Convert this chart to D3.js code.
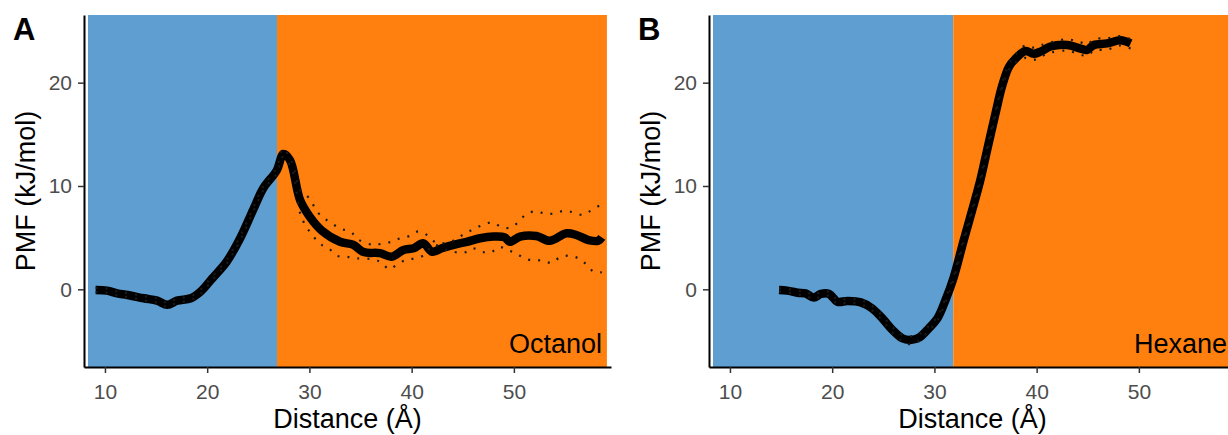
<!DOCTYPE html>
<html>
<head>
<meta charset="utf-8">
<script src="https://cdn.jsdelivr.net/npm/d3@7"></script>
<style>
  body { margin: 0; background: #fff; }
  text { font-family: "Liberation Sans", Arial, sans-serif; }
</style>
</head>
<body>
<svg width="1228" height="435"></svg>
<script>
// ---- data ----
const xTicks = [10, 20, 30, 40, 50];
const yTicks = [0, 10, 20];
const panelLabels = ['A', 'B'];
const solvents = ['Octanol', 'Hexane'];
const waterStart = [8.34, 8.34];      // blue region start (Å)
const interfacePos = [26.83, 31.84];  // blue / orange boundary (Å)
const solventEnd = [59.1, 59.1];      // orange region end (Å)

// panel A: octanol
const distA = [9.09, 10.2, 11.2, 12.2, 13.8, 15.1, 16.1, 17.05, 18.4, 19.35, 20.5, 21.9, 23.2, 24.5, 25.5, 26.8, 27.45, 28.1, 29.1, 30.05, 31.2, 33.0, 34.3, 35.3, 36.9, 38.05, 39.2, 40.2, 41.15, 41.97, 42.95, 44.1, 45.4, 46.7, 48.0, 49.1, 49.6, 50.6, 52.2, 53.5, 55.15, 56.1, 57.3, 58.25, 58.6];
const pmfA  = [-0.07, -0.13, -0.4, -0.55, -0.87, -1.1, -1.5, -1.1, -0.87, -0.23, 1.06, 2.67, 4.9, 7.7, 9.8, 11.5, 13.1, 12.5, 8.6, 7.0, 5.7, 4.6, 4.3, 3.6, 3.5, 3.15, 3.8, 3.97, 4.45, 3.64, 3.97, 4.3, 4.6, 4.94, 5.1, 5.03, 4.6, 5.1, 5.16, 4.7, 5.42, 5.26, 4.77, 4.7, 5.03];
const upDistA = [9.09, 10.2, 11.2, 12.2, 13.8, 15.1, 16.1, 17.05, 18.4, 19.35, 20.5, 21.9, 23.2, 24.5, 25.5, 26.8, 27.4, 28.3, 29.1, 29.9, 30.9, 31.7, 33.0, 34.1, 34.8, 36.3, 37.2, 38.05, 38.9, 39.8, 40.65, 41.5, 42.45, 43.8, 44.6, 45.4, 46.25, 47.2, 48.0, 48.8, 49.8, 50.6, 51.25, 52.2, 53.05, 54.0, 54.9, 55.8, 56.7, 57.5, 58.35];
const upPmfA  = [0.13, 0.07, -0.2, -0.35, -0.67, -0.9, -1.3, -0.9, -0.67, -0.03, 1.26, 2.87, 5.1, 7.9, 10.0, 11.8, 13.6, 12.3, 9.6, 8.9, 7.35, 6.7, 5.9, 5.5, 4.8, 4.3, 4.45, 4.6, 4.94, 5.16, 5.6, 5.26, 4.5, 4.6, 5.03, 5.5, 5.9, 6.35, 6.45, 6.0, 6.0, 6.7, 7.3, 7.55, 7.3, 7.35, 7.6, 7.45, 7.2, 7.6, 8.1];
const loDistA = [9.09, 10.2, 11.2, 12.2, 13.8, 15.1, 16.1, 17.05, 18.4, 19.35, 20.5, 21.9, 23.2, 24.5, 25.5, 26.8, 27.4, 28.3, 29.0, 29.3, 29.8, 30.4, 31.05, 31.95, 32.7, 33.65, 34.6, 36.25, 37.05, 37.8, 38.5, 39.4, 40.3, 41.2, 42.1, 43.4, 45.1, 46.0, 46.85, 47.7, 48.6, 49.35, 50.2, 51.0, 51.9, 52.8, 53.7, 54.5, 55.4, 56.3, 57.05, 57.8, 58.6];
const loPmfA  = [-0.27, -0.33, -0.6, -0.75, -1.07, -1.3, -1.7, -1.3, -1.07, -0.43, 0.86, 2.47, 4.7, 7.5, 9.6, 11.2, 12.8, 11.6, 7.7, 6.8, 5.9, 5.1, 4.4, 3.9, 3.25, 3.15, 3.0, 2.9, 2.58, 1.94, 2.35, 2.84, 3.0, 3.3, 4.3, 3.8, 3.55, 3.97, 3.64, 3.55, 4.1, 3.8, 3.5, 3.0, 2.8, 2.8, 2.55, 3.1, 3.25, 3.0, 2.45, 1.7, 1.65];

// panel B: hexane (bounds share the main curve's distances)
const distB = [14.8, 15.6, 16.6, 17.4, 18.2, 18.9, 19.7, 20.5, 21.5, 22.8, 23.9, 24.9, 25.9, 26.85, 27.65, 28.5, 29.45, 30.3, 31.1, 31.9, 32.87, 33.7, 34.5, 35.16, 35.97, 36.6, 37.27, 37.9, 38.9, 39.7, 40.37, 41.35, 42.98, 44.3, 44.95, 45.6, 46.9, 48.2, 49.2];
const pmfB  = [-0.07, -0.13, -0.33, -0.4, -0.8, -0.45, -0.45, -1.2, -1.13, -1.26, -1.84, -2.8, -3.94, -4.74, -4.9, -4.68, -3.78, -2.8, -1.0, 1.2, 4.77, 7.68, 10.6, 13.5, 17.0, 19.6, 21.5, 22.3, 23.07, 22.8, 23.0, 23.5, 23.65, 23.3, 23.17, 23.65, 23.8, 24.1, 23.8];
const upPmfB = [0.1, 0.05, -0.15, -0.2, -0.6, -0.25, -0.25, -1.0, -0.95, -1.05, -1.6, -2.55, -3.65, -4.4, -4.55, -4.35, -3.55, -2.6, -0.8, 1.4, 4.95, 7.85, 10.8, 13.7, 17.2, 19.8, 21.8, 22.7, 23.6, 23.4, 23.6, 23.9, 24.2, 23.9, 23.7, 24.2, 24.3, 24.5, 24.2];
const loPmfB = [-0.25, -0.3, -0.5, -0.6, -1.0, -0.65, -0.65, -1.4, -1.3, -1.45, -2.05, -3.0, -4.2, -5.05, -5.3, -5.0, -4.0, -3.0, -1.2, 1.0, 4.6, 7.5, 10.4, 13.3, 16.8, 19.4, 21.2, 21.9, 22.4, 22.2, 22.5, 22.9, 23.1, 22.7, 22.6, 23.1, 23.2, 23.6, 23.3];

const svg = d3.select('svg');

const panelW = 527;
const plotTop = 15, plotBottom = 367;
const lefts = [84, 709];

const yScale = d3.scaleLinear()
  .domain([-7.52, 26.55])
  .range([plotBottom, plotTop]);

const panels = [
  { dist: distA, pmf: pmfA, upD: upDistA, upP: upPmfA, loD: loDistA, loP: loPmfA },
  { dist: distB, pmf: pmfB, upD: distB, upP: upPmfB, loD: distB, loP: loPmfB }
];

panels.forEach((p, i) => {
  const left = lefts[i];
  const xScale = d3.scaleLinear()
    .domain([7.95, 59.5])
    .range([left, left + panelW]);

  const g = svg.append('g');

  // background regions
  g.append('rect')
    .attr('x', xScale(waterStart[i]))
    .attr('y', plotTop)
    .attr('width', xScale(interfacePos[i]) - xScale(waterStart[i]))
    .attr('height', plotBottom - plotTop)
    .attr('fill', '#5F9ED1');
  g.append('rect')
    .attr('x', xScale(interfacePos[i]))
    .attr('y', plotTop)
    .attr('width', xScale(solventEnd[i]) - xScale(interfacePos[i]))
    .attr('height', plotBottom - plotTop)
    .attr('fill', '#FF800E');

  const line = d3.line()
    .x(d => xScale(d[0]))
    .y(d => yScale(d[1]))
    .curve(d3.curveCatmullRom.alpha(0.5));

  // main PMF curve
  g.append('path')
    .datum(d3.zip(p.dist, p.pmf))
    .attr('d', line)
    .attr('fill', 'none')
    .attr('stroke', '#000')
    .attr('stroke-width', 8.5)
    .attr('stroke-linejoin', 'round');

  // error bounds (dotted)
  [[p.upD, p.upP], [p.loD, p.loP]].forEach(([xs, ys]) => {
    g.append('path')
      .datum(d3.zip(xs, ys))
      .attr('d', line)
      .attr('fill', 'none')
      .attr('stroke', '#1a1a1a')
      .attr('stroke-width', 2.2)
      .attr('stroke-dasharray', '2 8');
  });

  // axes
  const xAxis = g.append('g')
    .attr('transform', `translate(0,${plotBottom})`)
    .call(d3.axisBottom(xScale).tickValues(xTicks).tickSize(6).tickSizeOuter(0).tickPadding(11));
  const yAxis = g.append('g')
    .attr('transform', `translate(${left},0)`)
    .call(d3.axisLeft(yScale).tickValues(yTicks).tickSize(6).tickSizeOuter(0).tickPadding(6));

  [xAxis, yAxis].forEach(ax => {
    ax.select('.domain').attr('stroke', '#000').attr('stroke-width', 2);
    ax.selectAll('.tick line').attr('stroke', '#333').attr('stroke-width', 1.5);
    ax.selectAll('.tick text')
      .attr('fill', '#4D4D4D')
      .style('font-size', '21px')
      .style('font-family', '"Liberation Sans", Arial, sans-serif');
  });

  // titles
  g.append('text')
    .text('Distance (Å)')
    .attr('x', left + panelW / 2)
    .attr('y', 428)
    .attr('text-anchor', 'middle')
    .style('font-size', '27px');

  g.append('text')
    .text('PMF (kJ/mol)')
    .attr('transform', `translate(${left - 49},${(plotTop + plotBottom) / 2}) rotate(-90)`)
    .attr('text-anchor', 'middle')
    .style('font-size', '27px');

  g.append('text')
    .text(solvents[i])
    .attr('x', left + 518)
    .attr('y', 353)
    .attr('text-anchor', 'end')
    .style('font-size', '27px');

  g.append('text')
    .text(panelLabels[i])
    .attr('x', left - 71)
    .attr('y', 40)
    .style('font-size', '31px')
    .style('font-weight', 'bold');
});
</script>
</body>
</html>
